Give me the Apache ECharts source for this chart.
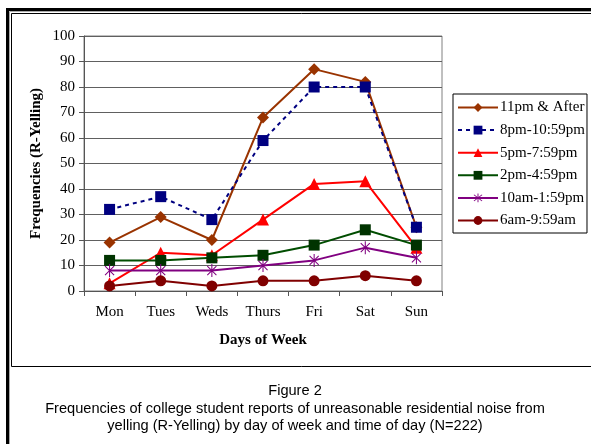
<!DOCTYPE html>
<html>
<head>
<meta charset="utf-8">
<script src="https://cdn.jsdelivr.net/npm/echarts@6/dist/echarts.min.js"></script>
<style>
  html, body { margin: 0; padding: 0; background: #fff; }
  #chart { width: 591px; height: 444px; }
</style>
</head>
<body>
<div id="chart"></div>
<script>
const days = ['Mon', 'Tues', 'Weds', 'Thurs', 'Fri', 'Sat', 'Sun'];
const yTicks = [0, 10, 20, 30, 40, 50, 60, 70, 80, 90, 100];

const late = [19, 29, 20, 68, 87, 82, 25];       // 11pm & After
const evening = [32, 37, 28, 59, 80, 80, 25];    // 8pm-10:59pm
const dinner = [3, 15, 14, 28, 42, 43, 17];      // 5pm-7:59pm
const afternoon = [12, 12, 13, 14, 18, 24, 18];  // 2pm-4:59pm
const midday = [8, 8, 8, 10, 12, 17, 13];        // 10am-1:59pm
const morning = [2, 4, 2, 4, 4, 6, 4];           // 6am-9:59am

const captionLines = [
  'Figure 2',
  'Frequencies of college student reports of unreasonable residential noise from',
  'yelling (R-Yelling) by day of week and time of day (N=222)'
];

// asterisk marker: vertical bar + two diagonals
const asterisk = 'path://M46 0L54 0L54 100L46 100Z' +
  'M12.2 17.8L17.8 12.2L87.8 82.2L82.2 87.8Z' +
  'M82.2 12.2L87.8 17.8L17.8 87.8L12.2 82.2Z';

const serif = 'Liberation Serif';

function line(name, data, color, symbol, size, extra) {
  return Object.assign({
    name: name,
    type: 'line',
    data: data,
    symbol: symbol,
    symbolSize: size,
    symbolKeepAspect: true,
    lineStyle: { color: color, width: 2 },
    itemStyle: { color: color },
    emphasis: { disabled: true },
    animation: false
  }, extra || {});
}

const chart = echarts.init(document.getElementById('chart'));

const captionText = captionLines.map((t, i) => ({
  type: 'text', silent: true, x: 295, y: 391 + i * 17.5,
  style: { text: t, fontFamily: 'Liberation Sans', fontSize: 14.6, fill: '#000',
    align: 'center', verticalAlign: 'middle' }
}));

const option = {
  backgroundColor: '#fff',
  textStyle: { fontFamily: serif },
  grid: {
    left: 84, right: 149, top: 36, bottom: 153,
    show: true, borderColor: '#808080', borderWidth: 1
  },
  legend: {
    orient: 'vertical',
    left: 453, top: 94,
    padding: [6, 2, 5, 4],
    itemWidth: 40, itemHeight: 11, itemGap: 7.6,
    borderColor: '#000', borderWidth: 1,
    backgroundColor: '#fff',
    textStyle: { fontFamily: serif, fontSize: 15, color: '#000', padding: [0, 0, 0, -3] },
    selectedMode: false
  },
  xAxis: {
    type: 'category',
    data: days,
    boundaryGap: true,
    axisLine: { lineStyle: { color: '#555', width: 1 } },
    axisTick: { show: true, length: 5, lineStyle: { color: '#555' } },
    axisLabel: { color: '#000', fontFamily: serif, fontSize: 15, margin: 14 },
    name: 'Days of Week',
    nameLocation: 'middle',
    nameGap: 42,
    nameMoveOverlap: false,
    nameTextStyle: { fontFamily: serif, fontSize: 15, fontWeight: 'bold', color: '#000' }
  },
  yAxis: {
    type: 'value',
    min: yTicks[0], max: yTicks[yTicks.length - 1], interval: 10,
    axisLine: { show: true, lineStyle: { color: '#555', width: 1 } },
    axisTick: { show: true, length: 5, lineStyle: { color: '#555' } },
    axisLabel: { color: '#000', fontFamily: serif, fontSize: 15, margin: 9 },
    splitLine: { show: true, lineStyle: { color: '#606060', width: 1 } },
    name: 'Frequencies (R-Yelling)',
    nameLocation: 'middle',
    nameGap: 40,
    nameMoveOverlap: false,
    nameRotate: 90,
    nameTextStyle: { fontFamily: serif, fontSize: 15, fontWeight: 'bold', color: '#000' }
  },
  series: [
    line('11pm & After', late, '#993300', 'diamond', 12),
    line('8pm-10:59pm', evening, '#000080', 'rect', 11,
      { lineStyle: { color: '#000080', width: 2, type: [4, 4] } }),
    line('5pm-7:59pm', dinner, '#ff0000', 'triangle', 12),
    line('2pm-4:59pm', afternoon, '#003300', 'rect', 11,
      { lineStyle: { color: '#004d00', width: 2 } }),
    line('10am-1:59pm', midday, '#800080', asterisk, 13),
    line('6am-9:59am', morning, '#800000', 'circle', 11)
  ],
  graphic: [
    // outer double frame
    { type: 'rect', silent: true, shape: { x: 7.5, y: 9.5, width: 620, height: 500 },
      style: { fill: 'none', stroke: '#000', lineWidth: 3 } },
    { type: 'rect', silent: true, shape: { x: 9.5, y: 11.5, width: 620, height: 500 },
      style: { fill: 'none', stroke: '#aaa', lineWidth: 1 } },
    { type: 'rect', silent: true, shape: { x: 11.5, y: 13.5, width: 620, height: 353 },
      style: { fill: 'none', stroke: '#000', lineWidth: 1 } }
  ].concat(captionText)
};

chart.setOption(option);
</script>
</body>
</html>
